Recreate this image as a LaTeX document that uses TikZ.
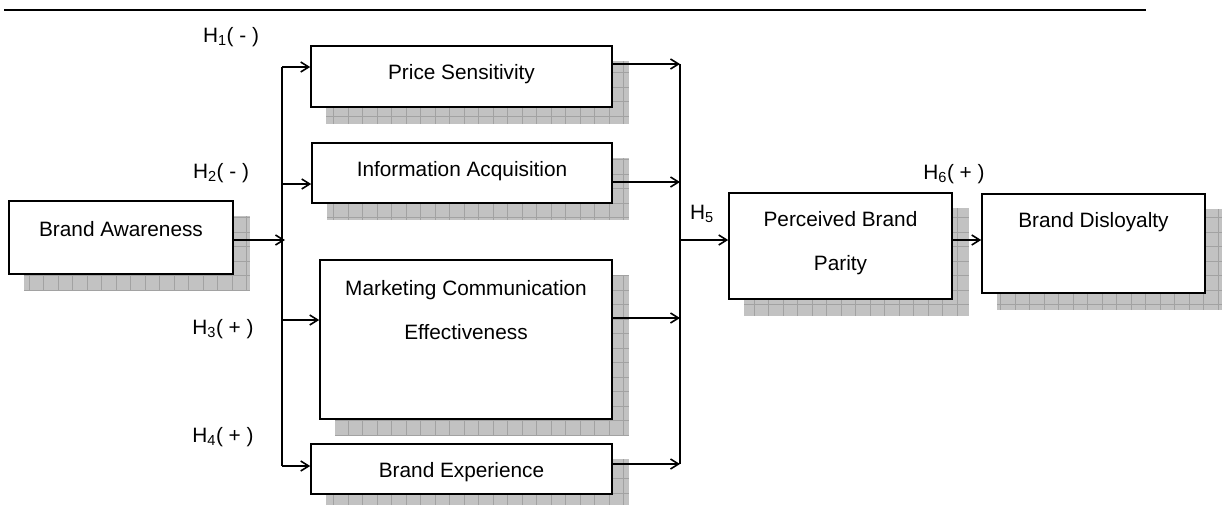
\documentclass[tikz,border=0pt]{standalone}
\usepackage{fontspec}
\setmainfont{Liberation Sans}
\usetikzlibrary{arrows.meta,backgrounds,calc}

\definecolor{shadowgray}{HTML}{C2C2C2}
\definecolor{gridgray}{HTML}{A2A2A2}

\tikzset{
  construct/.style={draw, line width=1.6pt, fill=white, inner sep=0pt},
  caption/.style={anchor=center, yshift=-29pt},
  twoline/.style={caption, yshift=-22pt, align=center},
  hyp/.style={inner sep=0pt},
  link/.style={line width=1.6pt},
  flow/.style={link, -{Straight Barb[length=8pt,width=10pt]}},
}

\begin{document}
\begin{tikzpicture}[x=1pt, y=-1pt, font=\fontsize{20.8}{44}\selectfont]
  \useasboundingbox (0,0) rectangle (1224,504);
  \draw[line width=2pt] (4,10) -- (1146,10);

  % constructs
  \node[construct, minimum width=224, minimum height=73,
    label={[caption]north:Brand Awareness}] (aware) at (121,237.5) {};
  \node[construct, minimum width=301, minimum height=61,
    label={[caption]north:Price Sensitivity}] (price) at (461.5,76.5) {};
  \node[construct, minimum width=300, minimum height=60,
    label={[caption]north:Information Acquisition}] (info) at (462,173) {};
  \node[construct, minimum width=292, minimum height=159,
    label={[twoline]north:{Marketing Communication\\Effectiveness}}] (mce) at (466,339.5) {};
  \node[construct, minimum width=301, minimum height=50,
    label={[caption]north:Brand Experience}] (exper) at (461.5,469) {};
  \node[construct, minimum width=223, minimum height=106,
    label={[twoline]north:{Perceived Brand\\Parity}}] (parity) at (840.5,246) {};
  \node[construct, minimum width=223, minimum height=99,
    label={[caption]north:Brand Disloyalty}] (disloyal) at (1093.5,243.5) {};

  % hypotheses
  \node[hyp] (h1) at (231,37) {H\textsubscript{1}( - )};
  \node[hyp] (h2) at (221,173) {H\textsubscript{2}( - )};
  \node[hyp] (h3) at (223,329) {H\textsubscript{3}( + )};
  \node[hyp] (h4) at (223,437) {H\textsubscript{4}( + )};
  \node[hyp] (h5) at (702,214) {H\textsubscript{5}};
  \node[hyp] (h6) at (954,174) {H\textsubscript{6}( + )};

  % shadows
  \begin{scope}[on background layer]
    \foreach \n in {aware,price,info,mce,exper,parity,disloyal} {
      \fill[shadowgray] ($(\n.north west)+(16,16)$) rectangle ($(\n.south east)+(16,16)$);
      \draw[gridgray, line width=0.8pt] ($(\n.north west)+(16,16)$) grid[step=14.5pt] ($(\n.south east)+(16,16)$);
    }
  \end{scope}

  % bus points
  \coordinate (inAware) at (285,240);
  \coordinate (inPrice) at (282,67);
  \coordinate (inInfo) at (282,184);
  \coordinate (inMce) at (282,320);
  \coordinate (inExper) at (282,466);
  \coordinate (outPrice) at (680,64);
  \coordinate (outInfo) at (680,182);
  \coordinate (outMce) at (680,318);
  \coordinate (outExper) at (680,464);
  \coordinate (outParity) at (680,240);

  \begin{scope}[link]
    \draw (inPrice) -- (inExper);
    \draw (outPrice) -- (outExper);
  \end{scope}
  \begin{scope}[flow]
    \draw (aware.east |- inAware) -- (inAware);
    \draw (inPrice) -- (inPrice -| price.west);
    \draw (inInfo) -- (inInfo -| info.west);
    \draw (inMce) -- (inMce -| mce.west);
    \draw (inExper) -- (inExper -| exper.west);
    \draw (price.east |- outPrice) -- (outPrice);
    \draw (info.east |- outInfo) -- (outInfo);
    \draw (mce.east |- outMce) -- (outMce);
    \draw (exper.east |- outExper) -- (outExper);
    \draw (outParity) -- (outParity -| parity.west);
    \draw (parity.east |- outParity) -- (outParity -| disloyal.west);
  \end{scope}
\end{tikzpicture}
\end{document}
